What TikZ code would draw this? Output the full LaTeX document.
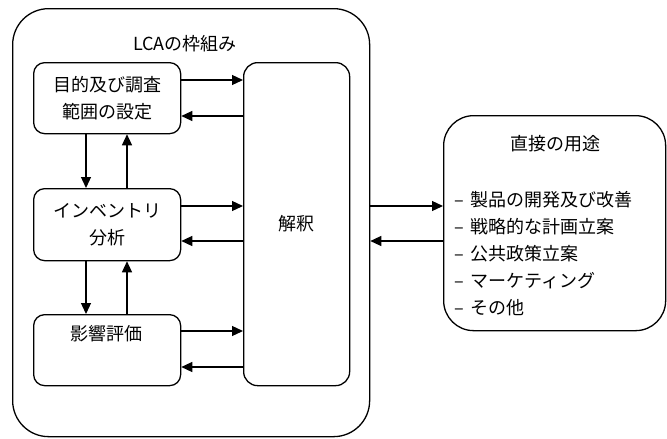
\documentclass[tikz,border=0pt]{standalone}
\usepackage{fontspec}
\setmainfont{Noto Sans CJK JP}
\usetikzlibrary{arrows.meta}
\begin{document}
\begin{tikzpicture}[x=1pt,y=-1pt,
  frame/.style={draw, line width=1.3pt, rounded corners=#1},
  lbl/.style={font=\fontsize{18}{27}\selectfont, inner sep=0pt, align=center},
  arr/.style={line width=1.3pt, -{Triangle[length=11pt,width=10pt]}}]
\useasboundingbox (0,0) rectangle (667,439);
\node[frame=36pt, minimum width=357pt, minimum height=428pt, anchor=north west] (lca) at (12,8) {};
\node[lbl, anchor=base] (title) at (185,50) {LCAの枠組み};
\node[frame=11pt, minimum width=147pt, minimum height=71pt, anchor=north west] (goal) at (33,62) {};
\node[frame=11pt, minimum width=147pt, minimum height=72pt, anchor=north west] (inv) at (33,188) {};
\node[frame=11pt, minimum width=147pt, minimum height=71pt, anchor=north west] (imp) at (33,314) {};
\node[frame=14pt, minimum width=106pt, minimum height=323pt, anchor=north west] (interp) at (243,62) {};
\node[frame=30pt, minimum width=222pt, minimum height=215pt, anchor=north west] (use) at (443,115) {};
\node[lbl] (goalt) at (goal.center) {目的及び調査\\範囲の設定};
\node[lbl] (invt) at (inv.center) {インベントリ\\分析};
\node[lbl, anchor=base] (impt) at (106,340) {影響評価};
\node[lbl] (interpt) at (interp.center) {解釈};
\node[lbl, anchor=base] (uset) at (555,150) {直接の用途};
\node[lbl, align=left, anchor=north west, font=\fontsize{18}{27}\selectfont] (items) at (454,191) {–\, 製品の開発及び改善\\–\, 戦略的な計画立案\\–\, 公共政策立案\\–\, マーケティング\\–\, その他};
% horizontal arrows
\draw[arr] (goal.east |- 0,80) -- (interp.west |- 0,80);
\draw[arr] (interp.west |- 0,116) -- (goal.east |- 0,116);
\draw[arr] (inv.east |- 0,206) -- (interp.west |- 0,206);
\draw[arr] (interp.west |- 0,241) -- (inv.east |- 0,241);
\draw[arr] (imp.east |- 0,331) -- (interp.west |- 0,331);
\draw[arr] (interp.west |- 0,367) -- (imp.east |- 0,367);
% vertical arrows
\draw[arr] (goal.south -| 86,0) -- (inv.north -| 86,0);
\draw[arr] (inv.north -| 127,0) -- (goal.south -| 127,0);
\draw[arr] (inv.south -| 86,0) -- (imp.north -| 86,0);
\draw[arr] (imp.north -| 127,0) -- (inv.south -| 127,0);
% outer arrows
\draw[arr] (lca.east |- 0,206) -- (use.west |- 0,206);
\draw[arr] (use.west |- 0,241) -- (lca.east |- 0,241);
\end{tikzpicture}
\end{document}
